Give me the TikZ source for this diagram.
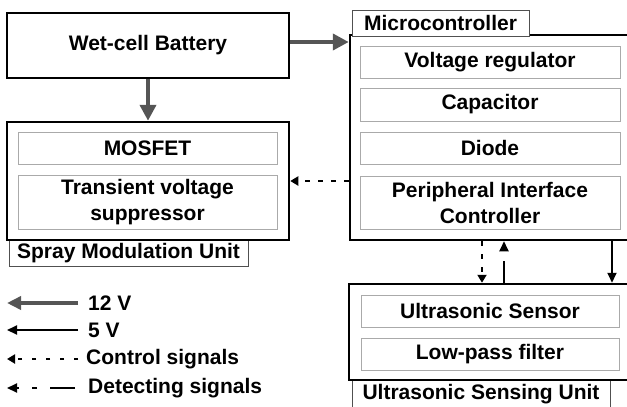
\documentclass[tikz,border=0pt]{standalone}
\usepackage{fontspec}
\setmainfont{Liberation Sans}
\usetikzlibrary{arrows.meta,calc}
\definecolor{pgray}{RGB}{85,85,85}
\definecolor{igray}{RGB}{170,170,170}
\definecolor{tgray}{RGB}{80,80,80}
\begin{document}
\begin{tikzpicture}[x=1pt,y=-1pt,
  every node/.style={font=\fontsize{21}{26}\selectfont\bfseries, inner sep=0pt, align=center},
  mainbox/.style={draw=black, line width=2.5pt, fill=white},
  innerbox/.style={draw=igray, line width=1pt, fill=white},
  tabbox/.style={draw=tgray, line width=1pt, fill=white},
  ptwelve/.style={draw=pgray, line width=4.5pt, -{Triangle[length=16pt,width=16pt]}},
  pfive/.style={draw=black, line width=2pt, -{Triangle[length=10pt,width=9pt]}},
  pctrl/.style={draw=black, line width=2pt, dash pattern=on 5pt off 8pt, -{Triangle[length=8pt,width=9pt]}},
  pdet/.style={draw=black, line width=2pt, dash pattern=on 22pt off 12pt on 5pt off 12pt, -{Triangle[length=10pt,width=9pt]}},
  legtext/.style={anchor=west}
]
\useasboundingbox (0,0) rectangle (627,407);

% bottom tabs first
\node[tabbox, minimum width=239pt, minimum height=26pt] (spraytab) at (128.5,253) {Spray Modulation Unit};
\node[tabbox, minimum width=258pt, minimum height=28pt] (ultratab) at (481,394) {Ultrasonic Sensing Unit};

% main boxes
\node[mainbox, minimum width=282pt, minimum height=65pt] (battery) at (148,45.5) {Wet-cell Battery};
\node[mainbox, minimum width=282pt, minimum height=118pt] (spray) at (148,181) {};
\node[mainbox, minimum width=290pt, minimum height=205pt] (micro) at (495,137.5) {};
\node[mainbox, minimum width=291pt, minimum height=96pt] (ultra) at (494.5,332) {};

% micro tab
\node[tabbox, minimum width=177pt, minimum height=26pt] (microtab) at (440.5,23) {Microcontroller};

% inner boxes
\node[innerbox, minimum width=259pt, minimum height=32pt] (mosfet) at (147.5,148) {MOSFET};
\node[innerbox, minimum width=259pt, minimum height=54pt] (tvs) at (147.5,202) {Transient voltage\\suppressor};

\node[innerbox, minimum width=260pt, minimum height=32pt] (vreg) at (490,62) {Voltage regulator};
\node[innerbox, minimum width=260pt, minimum height=33pt] (cap) at (490,104.5) {Capacitor};
\node[innerbox, minimum width=260pt, minimum height=32pt] (diode) at (490,148) {Diode};
\node[innerbox, minimum width=260pt, minimum height=53pt] (pic) at (490,202.5) {Peripheral Interface\\Controller};

\node[innerbox, minimum width=258pt, minimum height=32pt] (usens) at (490,311) {Ultrasonic Sensor};
\node[innerbox, minimum width=258pt, minimum height=32pt] (lpf) at (490,354) {Low-pass filter};

% connectors
\draw[ptwelve] ([yshift=3.5pt]battery.east) -- ([yshift=3.5pt]battery.east -| micro.west);
\draw[ptwelve] (battery.south) -- (spray.north);
\draw[pctrl] (spray.east -| micro.west) -- (spray.east);
\draw[pctrl] ([xshift=-13pt]micro.south) -- ([xshift=-13pt]micro.south |- ultra.north);
\draw[pdet] ([xshift=9pt]micro.south |- ultra.north) -- ([xshift=9pt]micro.south);
\draw[pfive] ([xshift=117pt]micro.south) -- ([xshift=117pt]micro.south |- ultra.north);

% legend
\coordinate (l1s) at (78,303); \coordinate (l1e) at (7,303);
\coordinate (l2s) at (78,330); \coordinate (l2e) at (7,330);
\coordinate (l3s) at (78,359); \coordinate (l3e) at (7,359);
\coordinate (l4s) at (75,388); \coordinate (l4e) at (7,388);
\draw[ptwelve, line width=4pt, -{Triangle[length=14pt,width=13pt]}] (l1s) -- (l1e);
\draw[pfive] (l2s) -- (l2e);
\draw[pctrl, dash pattern=on 4pt off 10pt] (l3s) -- (l3e);
\draw[pdet, dash pattern=on 25pt off 13pt on 5pt off 13pt] (l4s) -- (l4e);
\node[legtext] (t1) at (88,303) {12 V};
\node[legtext] (t2) at (88,330) {5 V};
\node[legtext] (t3) at (86,359) {Control signals};
\node[legtext] (t4) at (88,388) {Detecting signals};
\end{tikzpicture}
\end{document}
